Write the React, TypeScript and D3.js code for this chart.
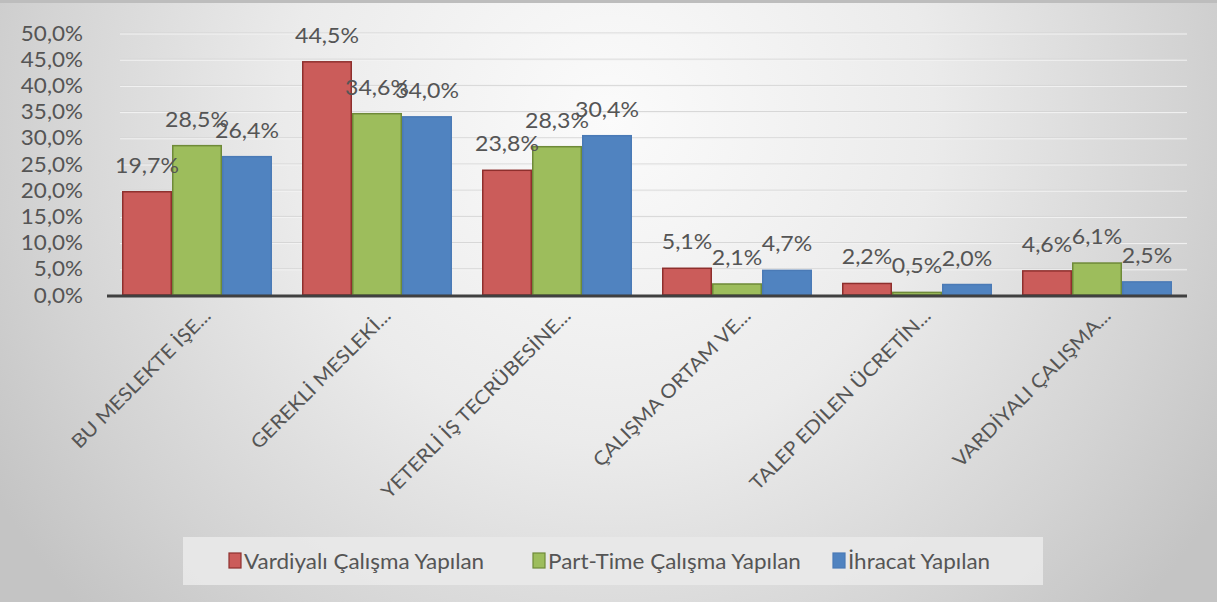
import React from "react";
import * as d3 from "d3";

const categories = [
  "BU MESLEKTE İŞE...",
  "GEREKLİ MESLEKİ...",
  "YETERLİ İŞ TECRÜBESİNE...",
  "ÇALIŞMA ORTAM VE...",
  "TALEP EDİLEN ÜCRETİN...",
  "VARDİYALI ÇALIŞMA...",
];
const seriesNames = ["Vardiyalı Çalışma Yapılan", "Part-Time Çalışma Yapılan", "İhracat Yapılan"];
const vardiyali = [19.7, 44.5, 23.8, 5.1, 2.2, 4.6];
const partTime = [28.5, 34.6, 28.3, 2.1, 0.5, 6.1];
const ihracat = [26.4, 34.0, 30.4, 4.7, 2.0, 2.5];
const yTicks = [0, 5, 10, 15, 20, 25, 30, 35, 40, 45, 50];

const seriesValues = [vardiyali, partTime, ihracat];
const fills = ["#CB5C5A", "#9DBD5C", "#5083C0"];
const strokes = ["#8E2F2D", "#6E8A38", "#4A7AB6"];

const W = 1217;
const H = 602;
const FONT = "Lato, 'Open Sans', sans-serif";
const TEXT = "#555555";

const fmt = (v: number) => v.toFixed(1).replace(".", ",") + "%";

function T(props: {
  x: number;
  y: number;
  rot?: number;
  sx?: number;
  size: number;
  anchor?: string;
  dy?: string;
  children: React.ReactNode;
}) {
  const { x, y, rot = 0, sx = 1.1, size, anchor = "start", dy, children } = props;
  return (
    <text
      transform={`translate(${x},${y}) rotate(${rot}) scale(${sx},1)`}
      textAnchor={anchor}
      fontSize={size}
      dy={dy}
      fill={TEXT}
    >
      {children}
    </text>
  );
}

export default function App() {
  const x0 = d3
    .scaleBand<string>()
    .domain(categories)
    .range([107, 1187])
    .paddingInner(1 / 6)
    .paddingOuter(1 / 12);
  const x1 = d3
    .scaleBand<string>()
    .domain(seriesNames)
    .range([0, x0.bandwidth()]);
  const y = d3.scaleLinear().domain([0, 50]).range([295, 33]);

  const legendItems = [
    { mx: 229, tx: 244 },
    { mx: 533, tx: 548 },
    { mx: 833, tx: 848 },
  ];

  return (
    <svg
      width={W}
      height={H}
      style={{ position: "absolute", left: 0, top: 0, display: "block" }}
      fontFamily={FONT}
    >
      <defs>
        <radialGradient id="bg" gradientUnits="userSpaceOnUse" cx={610} cy={120} r={720}>
          <stop offset="0" stopColor="#fbfbfb" />
          <stop offset="0.45" stopColor="#ebebeb" />
          <stop offset="0.8" stopColor="#d3d3d3" />
          <stop offset="1" stopColor="#c4c4c4" />
        </radialGradient>
      </defs>
      <rect x={0} y={0} width={W} height={H} fill="url(#bg)" />
      <rect x={0} y={0} width={W} height={3} fill="#bdbdbd" />

      {/* gridlines */}
      {yTicks.slice(1).map((t) => (
        <g key={"g" + t}>
          <line x1={120} x2={1187} y1={y(t)} y2={y(t)} stroke="#d4d4d4" strokeWidth={1} />
          <line x1={120} x2={1187} y1={y(t) + 1} y2={y(t) + 1} stroke="#f3f3f3" strokeWidth={1} />
        </g>
      ))}

      {/* y tick labels */}
      {yTicks.map((t) => (
        <T key={"y" + t} x={83} y={y(t)} dy="0.36em" anchor="end" size={21} sx={1.07}>
          {fmt(t)}
        </T>
      ))}

      {/* bars */}
      {categories.map((c, ci) => (
        <g key={"c" + ci} transform={`translate(${x0(c)},0)`}>
          {seriesNames.map((s, si) => {
            const v = seriesValues[si][ci];
            const bx = x1(s) as number;
            return (
              <rect
                key={s}
                x={bx + 0.75}
                y={y(v)}
                width={x1.bandwidth() - 1.5}
                height={y(0) - y(v)}
                fill={fills[si]}
                stroke={strokes[si]}
                strokeWidth={1.5}
              />
            );
          })}
        </g>
      ))}

      {/* axis line */}
      <line x1={107} x2={1187} y1={296} y2={296} stroke="#404040" strokeWidth={3} />

      {/* value labels */}
      {categories.map((c, ci) =>
        seriesNames.map((s, si) => {
          const v = seriesValues[si][ci];
          const cx = (x0(c) as number) + (x1(s) as number) + x1.bandwidth() / 2;
          return (
            <T key={c + s} x={cx} y={y(v) - 19} anchor="middle" size={21}>
              {fmt(v)}
            </T>
          );
        })
      )}

      {/* x category labels */}
      {categories.map((c) => {
        const cx = (x0(c) as number) + x0.bandwidth() / 2;
        return (
          <T key={"x" + c} x={cx + 15} y={317} rot={-45} anchor="end" size={19}>
            {c}
          </T>
        );
      })}

      {/* legend */}
      <rect x={183} y={537} width={860} height={48} fill="#e9e9e9" opacity={0.9} />
      {seriesNames.map((s, si) => (
        <g key={"l" + s}>
          <rect
            x={legendItems[si].mx}
            y={553}
            width={12}
            height={15}
            fill={fills[si]}
            stroke={strokes[si]}
            strokeWidth={1.2}
          />
          <T x={legendItems[si].tx} y={561} dy="0.36em" size={21} sx={1.07}>
            {s}
          </T>
        </g>
      ))}
    </svg>
  );
}
